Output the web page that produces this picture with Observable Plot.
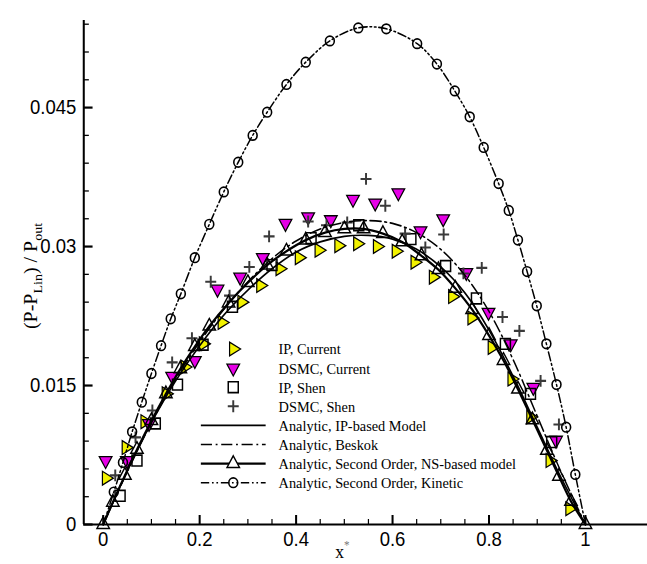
<!DOCTYPE html>
<html>
<head>
<meta charset="utf-8">
<script src="https://cdn.jsdelivr.net/npm/d3@7"></script>
<script src="https://cdn.jsdelivr.net/npm/@observablehq/plot@0.6"></script>
<style>
  html, body { margin: 0; padding: 0; background: #fff; }
  #chart svg { display: block; }
</style>
</head>
<body>
<div id="chart"></div>
<script>
// ---------- data ----------
// IP, Current (yellow right-pointing triangles)
const ipCurrentX = [0.006, 0.047, 0.086, 0.130, 0.169, 0.207, 0.246, 0.287, 0.326, 0.366, 0.406, 0.447, 0.488, 0.527, 0.568, 0.607, 0.646, 0.684, 0.724, 0.764, 0.806, 0.847, 0.886, 0.926, 0.967];
const ipCurrentY = [0.0050, 0.0083, 0.0111, 0.0141, 0.0170, 0.0195, 0.0218, 0.0240, 0.0258, 0.0276, 0.0288, 0.0296, 0.0301, 0.0303, 0.0300, 0.0295, 0.0283, 0.0267, 0.0246, 0.0223, 0.0191, 0.0157, 0.0116, 0.0069, 0.0017];

// DSMC, Current (magenta down-pointing triangles)
const dsmcCurrentX = [0.005, 0.049, 0.095, 0.143, 0.190, 0.237, 0.284, 0.331, 0.378, 0.425, 0.472, 0.518, 0.564, 0.612, 0.658, 0.705, 0.753, 0.799, 0.845, 0.892, 0.939];
const dsmcCurrentY = [0.0069, 0.0069, 0.0109, 0.0160, 0.0177, 0.0254, 0.0267, 0.0288, 0.0325, 0.0332, 0.0329, 0.0351, 0.0347, 0.0358, 0.0317, 0.0330, 0.0272, 0.0229, 0.0195, 0.0148, 0.0091];

// IP, Shen (open squares)
const ipShenX = [0.035, 0.070, 0.108, 0.154, 0.207, 0.268, 0.350, 0.431, 0.530, 0.638, 0.710, 0.774, 0.834, 0.886, 0.930];
const ipShenY = [0.0031, 0.0069, 0.0109, 0.0151, 0.0194, 0.0235, 0.0280, 0.0309, 0.0323, 0.0308, 0.0279, 0.0244, 0.0195, 0.0141, 0.0089];

// DSMC, Shen (plus signs)
const dsmcShenX = [0.025, 0.067, 0.102, 0.143, 0.184, 0.223, 0.262, 0.303, 0.344, 0.425, 0.463, 0.506, 0.545, 0.585, 0.626, 0.668, 0.706, 0.747, 0.785, 0.828, 0.863, 0.907, 0.945];
const dsmcShenY = [0.0053, 0.0094, 0.0123, 0.0175, 0.0201, 0.0262, 0.0247, 0.0278, 0.0311, 0.0327, 0.0323, 0.0326, 0.0373, 0.0344, 0.0314, 0.0299, 0.0313, 0.0271, 0.0277, 0.0224, 0.0209, 0.0155, 0.0108];

// Analytic curves sampled on a common grid
const analyticX = [0, 0.05, 0.10, 0.15, 0.20, 0.25, 0.30, 0.35, 0.40, 0.45, 0.50, 0.55, 0.60, 0.65, 0.70, 0.75, 0.80, 0.85, 0.90, 0.95, 1.0];
const ipModelY  = [0, 0.0058, 0.0110, 0.0155, 0.0193, 0.0226, 0.0253, 0.0276, 0.0294, 0.0305, 0.0311, 0.0312, 0.0308, 0.0297, 0.0278, 0.0250, 0.0210, 0.0160, 0.0105, 0.0050, 0];
const beskokY   = [0, 0.0057, 0.0110, 0.0157, 0.0197, 0.0232, 0.0262, 0.0287, 0.0306, 0.0319, 0.0326, 0.0328, 0.0325, 0.0315, 0.0297, 0.0269, 0.0230, 0.0178, 0.0117, 0.0056, 0];

// Analytic, Second Order, NS-based model (line with triangles)
const nsX = [0, 0.02, 0.045, 0.07, 0.10, 0.13, 0.16, 0.19, 0.22, 0.26, 0.30, 0.34, 0.38, 0.42, 0.46, 0.50, 0.54, 0.58, 0.62, 0.66, 0.695, 0.73, 0.765, 0.80, 0.83, 0.86, 0.89, 0.92, 0.945, 0.97, 1.0];
const nsY = [0, 0.0024, 0.0053, 0.0081, 0.0112, 0.0141, 0.0168, 0.0192, 0.0214, 0.0239, 0.0261, 0.0280, 0.0295, 0.0307, 0.0315, 0.0319, 0.0319, 0.0314, 0.0305, 0.0290, 0.0275, 0.0255, 0.0232, 0.0204, 0.0177, 0.0146, 0.0113, 0.0080, 0.0052, 0.0025, 0];

// Analytic, Second Order, Kinetic (line with circles); first and last are line end points
const kineticX = [0, 0.022, 0.041, 0.060, 0.080, 0.100, 0.120, 0.140, 0.161, 0.190, 0.220, 0.250, 0.280, 0.310, 0.340, 0.380, 0.420, 0.470, 0.529, 0.587, 0.651, 0.692, 0.729, 0.760, 0.789, 0.820, 0.841, 0.860, 0.879, 0.899, 0.919, 0.940, 0.960, 0.979, 1.0];
const kineticY = [0, 0.0035, 0.0067, 0.0100, 0.0132, 0.0163, 0.0193, 0.0222, 0.0249, 0.0288, 0.0324, 0.0359, 0.0391, 0.0420, 0.0445, 0.0475, 0.0499, 0.0522, 0.0536, 0.0535, 0.0519, 0.0497, 0.0468, 0.0440, 0.0407, 0.0368, 0.0339, 0.0307, 0.0273, 0.0236, 0.0195, 0.0151, 0.0105, 0.0054, 0];

// Ticks and labels
const xMajorTicks = [0, 0.2, 0.4, 0.6, 0.8, 1];
const xMinorTicks = [0.05, 0.1, 0.15, 0.25, 0.3, 0.35, 0.45, 0.5, 0.55, 0.65, 0.7, 0.75, 0.85, 0.9, 0.95];
const yMajorTicks = [0, 0.015, 0.03, 0.045];
const yMinorTicks = [0.003, 0.006, 0.009, 0.012, 0.018, 0.021, 0.024, 0.027, 0.033, 0.036, 0.039, 0.042, 0.048, 0.051, 0.054];
const xDomain = [-0.0403, 1.1286];
const yDomain = [0, 0.0544];
const legendLabels = ["IP, Current", "DSMC, Current", "IP, Shen", "DSMC, Shen",
  "Analytic, IP-based Model", "Analytic, Beskok",
  "Analytic, Second Order, NS-based model", "Analytic, Second Order, Kinetic"];

// ---------- build tables ----------
const zip = (xs, ys) => xs.map((x, i) => ({x, y: ys[i]}));
const ipCurrent = zip(ipCurrentX, ipCurrentY);
const dsmcCurrent = zip(dsmcCurrentX, dsmcCurrentY);
const ipShen = zip(ipShenX, ipShenY);
const dsmcShen = zip(dsmcShenX, dsmcShenY);
const ipModel = zip(analyticX, ipModelY);
const beskok = zip(analyticX, beskokY);
const ns = zip(nsX, nsY);
const kinetic = zip(kineticX, kineticY);
const kineticSymbols = kinetic.slice(1, -1);

const YELLOW = "#f2f200", MAGENTA = "#e600e6", PLUS = "#3a3a3a";
const beskokDash = "12,4,2,4";
const kineticDash = "9,3,1.8,3,1.8,3";

// The reference figure is horizontally compressed; draw at its native width and squeeze.
const nativeWidth = 695;

const chart = Plot.plot({
  width: nativeWidth,
  height: 564,
  marginLeft: 86,
  marginRight: 0,
  marginTop: 20,
  marginBottom: 40,
  x: {domain: xDomain},
  y: {domain: yDomain},
  style: {fontFamily: "'Liberation Sans', Arial, Helvetica, sans-serif", background: "#fff", color: "#000"},
  marks: [
    // scatter data
    Plot.dot(ipCurrent, {x: "x", y: "y", symbol: "triangle", rotate: 90, r: 5.1, fill: YELLOW, stroke: "#000", strokeWidth: 1.3}),
    Plot.dot(dsmcCurrent, {x: "x", y: "y", symbol: "triangle", rotate: 180, r: 5.1, fill: MAGENTA, stroke: "#000", strokeWidth: 1.3}),
    Plot.dot(ipShen, {x: "x", y: "y", symbol: "square", r: 6.1, fill: "none", stroke: "#000", strokeWidth: 1.6}),
    Plot.dot(dsmcShen, {x: "x", y: "y", symbol: "plus", r: 3.9, stroke: PLUS, strokeWidth: 2.1}),
    // analytic curves
    Plot.line(ipModel, {x: "x", y: "y", curve: "catmull-rom", stroke: "#000", strokeWidth: 1.7}),
    Plot.line(beskok, {x: "x", y: "y", curve: "catmull-rom", stroke: "#000", strokeWidth: 1.6, strokeDasharray: beskokDash}),
    Plot.line(ns, {x: "x", y: "y", curve: "catmull-rom", stroke: "#000", strokeWidth: 2.3}),
    Plot.dot(ns, {x: "x", y: "y", symbol: "triangle", r: 5, fill: "none", stroke: "#000", strokeWidth: 1.5}),
    Plot.line(kinetic, {x: "x", y: "y", curve: "catmull-rom", stroke: "#000", strokeWidth: 1.6, strokeDasharray: kineticDash}),
    Plot.dot(kineticSymbols, {x: "x", y: "y", symbol: "circle", r: 4.8, fill: "none", stroke: "#000", strokeWidth: 1.7}),
    // axes
    Plot.ruleY([yDomain[0]], {stroke: "#000", strokeWidth: 2.2}),
    Plot.ruleX([xDomain[0]], {stroke: "#000", strokeWidth: 2.2}),
    Plot.axisX(xMinorTicks, {tickSize: -5, tickFormat: () => "", strokeWidth: 1.3, label: null}),
    Plot.axisX(xMajorTicks, {tickSize: -9, tickPadding: 16, tickFormat: d => String(d), fontSize: 20, strokeWidth: 2.2, label: null}),
    Plot.axisY(yMinorTicks, {tickSize: -6, tickFormat: () => "", strokeWidth: 1.3, label: null}),
    Plot.axisY(yMajorTicks, {tickSize: -10, tickPadding: 18, tickFormat: d => String(d), fontSize: 20, strokeWidth: 2.2, label: null})
  ]
});

// squeeze horizontally like the reference
chart.setAttribute("width", 647);
chart.setAttribute("height", 564);
chart.setAttribute("viewBox", "-4 0 699 564");
chart.setAttribute("preserveAspectRatio", "none");
chart.style.width = "647px";
chart.style.height = "564px";
chart.style.maxWidth = "none";
document.getElementById("chart").appendChild(chart);

// ---------- axis titles and legend (text) ----------
const svg = d3.select(chart);
const serif = "'Liberation Serif', 'Times New Roman', Times, serif";

// y-axis title with subscripts
const yt = svg.append("text")
  .attr("transform", "translate(36,276) rotate(-90)")
  .attr("text-anchor", "middle")
  .style("font-family", serif)
  .style("font-size", "20px")
  .attr("fill", "#000");
yt.append("tspan").text("(P-P");
yt.append("tspan").attr("dy", 5).style("font-size", "14px").text("Lin");
yt.append("tspan").attr("dy", -5).text(") / P");
yt.append("tspan").attr("dy", 5).style("font-size", "14px").text("out");

// x-axis title
const xt = svg.append("text")
  .attr("x", 366).attr("y", 558)
  .attr("text-anchor", "middle")
  .style("font-family", serif)
  .style("font-size", "19px")
  .attr("fill", "#000");
xt.append("tspan").text("x");
xt.append("tspan").attr("dy", -9).style("font-size", "12px").attr("fill", "#777").text("*");

// legend
const lg = svg.append("g")
  .style("font-family", serif)
  .style("font-size", "15.5px")
  .attr("text-anchor", "start");
const lx0 = 213, lx1 = 283, mx = 248, tx = 297, ly0 = 349, ldy = 19.1;
const sym = (type, r) => d3.symbol(type, Math.PI * r * r)();
legendLabels.forEach((label, i) => {
  const cy = ly0 + i * ldy;
  const g = lg.append("g");
  if (i === 0) g.append("path").attr("d", sym(d3.symbolTriangle, 5.1)).attr("transform", `translate(${mx},${cy}) rotate(90)`).attr("fill", YELLOW).attr("stroke", "#000").attr("stroke-width", 1.3);
  if (i === 1) g.append("path").attr("d", sym(d3.symbolTriangle, 5.1)).attr("transform", `translate(${mx},${cy}) rotate(180)`).attr("fill", MAGENTA).attr("stroke", "#000").attr("stroke-width", 1.3);
  if (i === 2) g.append("path").attr("d", sym(d3.symbolSquare, 6.1)).attr("transform", `translate(${mx},${cy})`).attr("fill", "none").attr("stroke", "#000").attr("stroke-width", 1.6);
  if (i === 3) g.append("path").attr("d", sym(d3.symbolPlus, 3.9)).attr("transform", `translate(${mx},${cy})`).attr("fill", "none").attr("stroke", PLUS).attr("stroke-width", 2.1);
  if (i >= 4) {
    const line = g.append("line").attr("x1", lx0).attr("x2", lx1).attr("y1", cy).attr("y2", cy).attr("stroke", "#000");
    if (i === 4) line.attr("stroke-width", 1.7);
    if (i === 5) line.attr("stroke-width", 1.6).attr("stroke-dasharray", beskokDash);
    if (i === 6) {
      line.attr("stroke-width", 2.3);
      g.append("path").attr("d", sym(d3.symbolTriangle, 5)).attr("transform", `translate(${mx},${cy})`).attr("fill", "#fff").attr("stroke", "#000").attr("stroke-width", 1.5);
    }
    if (i === 7) {
      line.attr("stroke-width", 1.6).attr("stroke-dasharray", kineticDash);
      g.append("circle").attr("cx", mx).attr("cy", cy).attr("r", 4.8).attr("fill", "none").attr("stroke", "#000").attr("stroke-width", 1.7);
    }
  }
  g.append("text").attr("x", tx).attr("y", cy).attr("dy", "0.35em").attr("text-anchor", "start").attr("fill", "#000").text(label);
});
</script>
</body>
</html>
